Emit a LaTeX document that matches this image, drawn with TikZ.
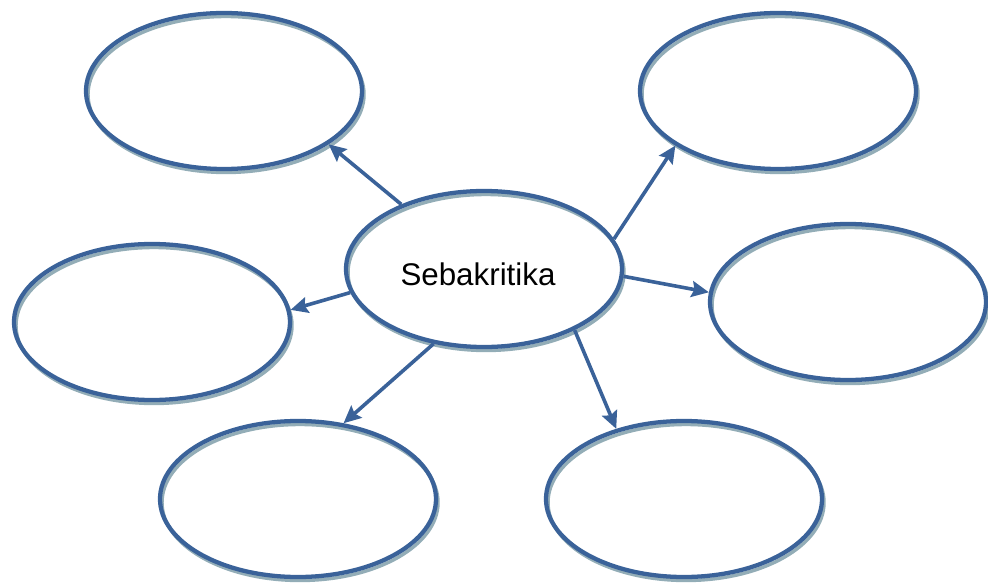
\documentclass[tikz,border=0pt]{standalone}
\usepackage{fontspec}
\setmainfont{Liberation Sans}
\usepackage{tikz}
\usetikzlibrary{positioning, arrows.meta, shapes}

\definecolor{rimblue}{HTML}{3A6299}
\definecolor{rimshade}{HTML}{93ADB7}

\begin{document}
\begin{tikzpicture}[x=0.75pt, y=-0.75pt,
        bubble/.style={ellipse, draw=rimblue, line width=3.2pt,
            minimum width=207pt, minimum height=117pt, inner sep=0pt,
            preaction={draw=rimshade, line width=2.6pt,
                transform canvas={shift={(1.5pt,-2.6pt)}}}},
        link/.style={draw=rimblue, line width=2.7pt, -{Stealth[length=13pt, width=12pt, inset=2pt]}}]
            \useasboundingbox (0, 0) rectangle (988, 588);

            \node[bubble] (tl) at (224, 91) {};
            \node[bubble] (tr) at (778, 91) {};
            \node[bubble] (lm) at (152, 322) {};
            \node[bubble] (rm) at (848, 302) {};
            \node[bubble] (bl) at (298, 499) {};
            \node[bubble] (br) at (684, 499) {};
            \node[bubble, font=\fontsize{23.5}{28}\selectfont] (c) at (484, 269) {\raisebox{-12.5pt}[0pt][0pt]{Sebakritika}\kern9pt};

            \draw[link] (c.142) -- (tl.333);
            \draw[link] (c.13) -- (tr.208);
            \draw[link] (c.190) -- (lm.5);
            \draw[link] (c.357) -- (rm.176);
            \draw[link] (c.236) -- (bl.59);
            \draw[link] (c.326) -- (br.134);
        \end{tikzpicture}
\end{document}
